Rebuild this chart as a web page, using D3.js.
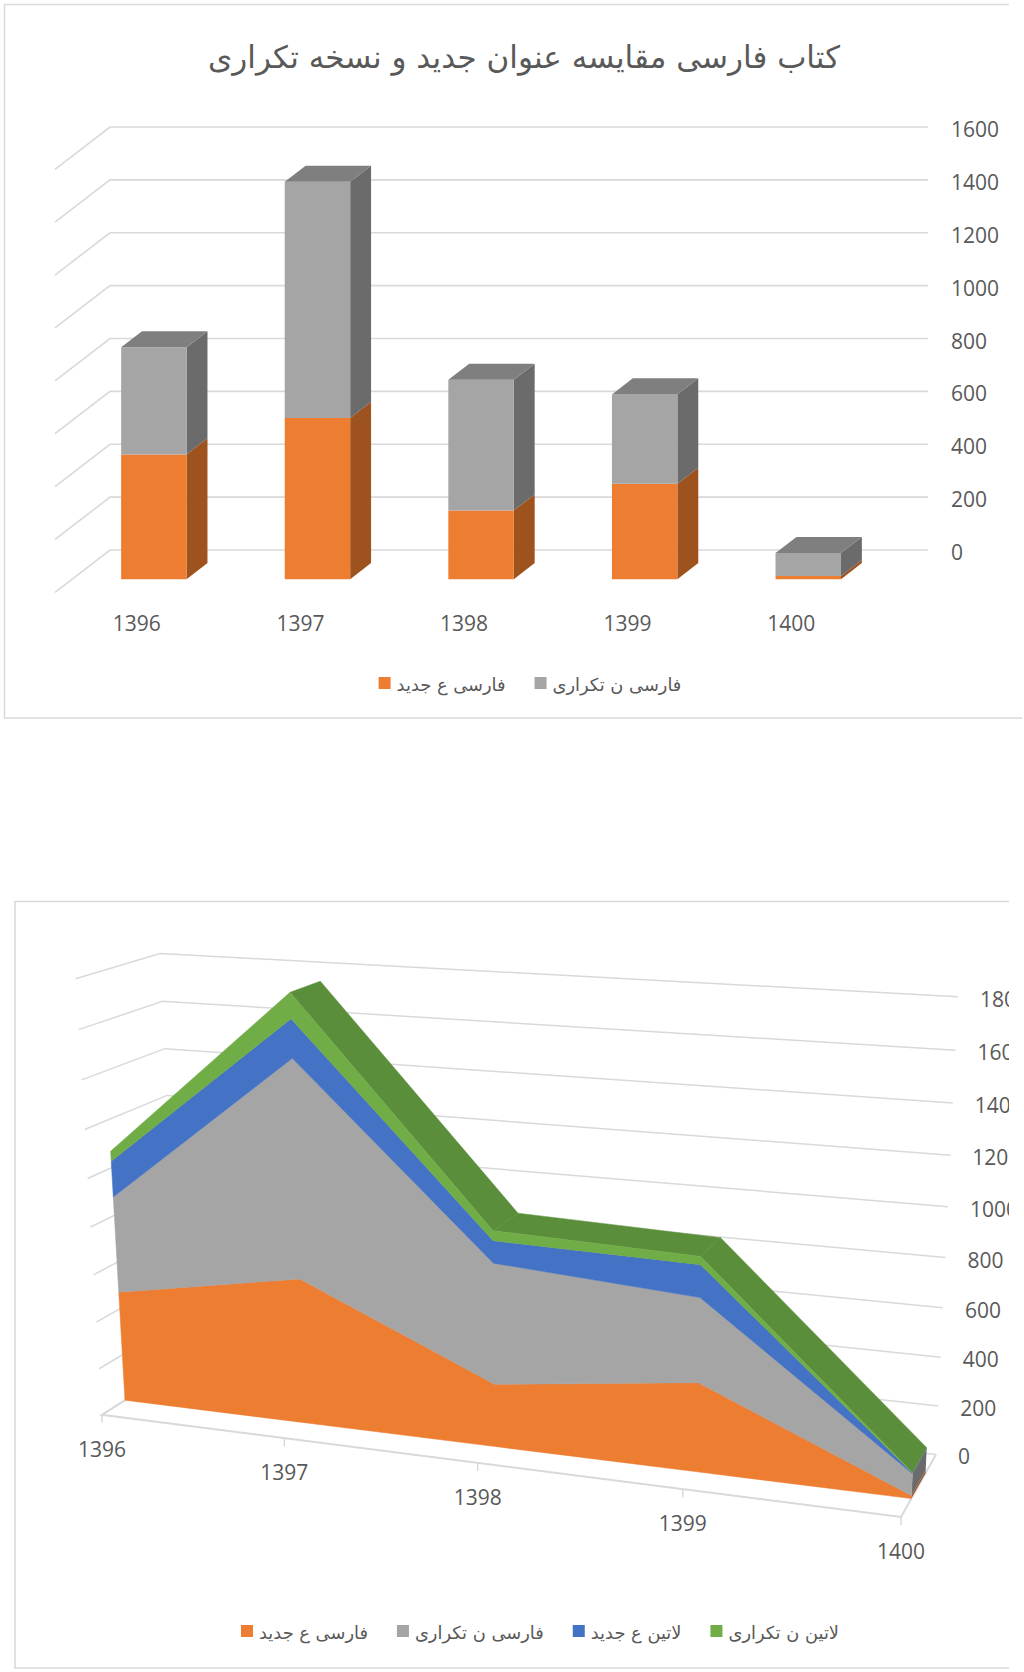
<!DOCTYPE html>
<html>
<head>
<meta charset="utf-8">
<script src="https://cdn.jsdelivr.net/npm/d3@7"></script>
<style>
  body { margin: 0; background: #fff; }
</style>
</head>
<body>
<svg id="chart" width="1024" height="1672"></svg>
<script>
// ---- data ----
const categories = ["1396", "1397", "1398", "1399", "1400"];
const seriesNames = ["فارسی ع جدید", "فارسی ن تکراری", "لاتین ع جدید", "لاتین ن تکراری"];
const persianNew = [472, 610, 260, 361, 12];
const persianRepeat = [405, 893, 494, 338, 87];
const latinNew = [150, 155, 90, 128, 3];
const latinRepeat = [42, 103, 40, 32, 2];
const topTicks = [0, 200, 400, 600, 800, 1000, 1200, 1400, 1600];
const bottomTicks = [0, 200, 400, 600, 800, 1000, 1200, 1400, 1600, 1800];
const topTitle = "کتاب فارسی مقایسه عنوان جدید و نسخه تکراری";

// ---- styles ----
const gridCol = "#d9d9d9";
const textCol = "#595959";
const numFont = "'Open Sans', sans-serif";
const faFont = "'DejaVu Sans', sans-serif";
const faceCol = ["#ed7d31", "#a5a5a5", "#4472c4", "#70ad47"];
const sideCol = ["#9e521e", "#6b6b6b", "#2f528f", "#4e7a31"];
const topFaceCol = "#7f7f7f";
const ribbonCol = "#5b8e3a";

const svg = d3.select("#chart");
const line = d3.line();
const poly = pts => line(pts) + "Z";

// shrink/grow a text so it takes the given width
function fitWidth(sel, w) {
  const cur = sel.node().getComputedTextLength();
  const fs = parseFloat(sel.attr("font-size"));
  sel.attr("font-size", fs * w / cur);
}

function legend(g, keys, cx, cy, textW) {
  const items = g.selectAll("g").data(keys).join("g");
  items.append("rect").attr("width", 12).attr("height", 12)
    .attr("y", cy - 6).attr("fill", d => faceCol[d]);
  const t = items.append("text")
    .attr("font-family", faFont).attr("font-size", 17).attr("fill", textCol)
    .attr("y", cy + 1).attr("dominant-baseline", "central")
    .text(d => seriesNames[d]);
  // common size, from the first label
  const first = t.filter((d, i) => i === 0);
  fitWidth(first, textW);
  t.attr("font-size", first.attr("font-size"));
  let x = 0;
  const pos = [];
  t.each(function () {
    pos.push(x);
    x += 12 + 6 + this.getComputedTextLength() + 29;
  });
  const total = x - 29;
  const x0 = cx - total / 2;
  items.select("rect").attr("x", (d, i) => x0 + pos[i]);
  t.attr("x", (d, i) => x0 + pos[i] + 18);
}

// =====================================================
// 1. 3D stacked columns (top)
// =====================================================
const gTop = svg.append("g");
gTop.append("path")
  .attr("d", "M1009,4.5 H4.5 V718 H1022")
  .attr("fill", "none").attr("stroke", gridCol).attr("stroke-width", 1.5);

const title = gTop.append("text")
  .attr("x", 524).attr("y", 68).attr("text-anchor", "middle")
  .attr("font-family", faFont).attr("font-size", 30).attr("fill", textCol)
  .text(topTitle);
fitWidth(title, 632);

const x1 = d3.scaleBand().domain(categories).range([110, 928])
  .paddingInner(0.6).paddingOuter(0.3);
const y1 = d3.scaleLinear().domain([0, 1600]).range([550, 127]);
// oblique depth: full wall depth moves (-55, +42.3)
const DX = -55, DY = 42.3, dFront = 0.69, dBack = 0.31;
const ob = (x, y, d) => [x + DX * d, y + DY * d];

// walls
gTop.append("g").selectAll("path").data(topTicks).join("path")
  .attr("d", v => line([[x1.range()[0] + DX, y1(v) + DY], [x1.range()[0], y1(v)], [x1.range()[1], y1(v)]]))
  .attr("fill", "none").attr("stroke", gridCol).attr("stroke-width", 1.6);

gTop.append("g").selectAll("text").data(topTicks).join("text")
  .attr("x", 951).attr("y", v => y1(v) + 2)
  .attr("dominant-baseline", "central")
  .attr("font-family", numFont).attr("font-size", 21).attr("fill", textCol)
  .text(v => v);

const rowsTop = categories.map((c, i) => ({ cat: c, s0: persianNew[i], s1: persianRepeat[i] }));
const stackTop = d3.stack().keys(["s0", "s1"])(rowsTop);

const faces = [];
categories.forEach((c, i) => {
  const xl = x1(c), xr = x1(c) + x1.bandwidth();
  stackTop.forEach((layer, k) => {
    const a = y1(layer[i][0]), b = y1(layer[i][1]);
    faces.push({ fill: sideCol[k], pts: [ob(xr, a, dFront), ob(xr, a, dBack), ob(xr, b, dBack), ob(xr, b, dFront)] });
    faces.push({ fill: faceCol[k], pts: [ob(xl, a, dFront), ob(xr, a, dFront), ob(xr, b, dFront), ob(xl, b, dFront)] });
    if (k === stackTop.length - 1) {
      faces.push({ fill: topFaceCol, pts: [ob(xl, b, dFront), ob(xr, b, dFront), ob(xr, b, dBack), ob(xl, b, dBack)] });
    }
  });
});
gTop.append("g").selectAll("path").data(faces).join("path")
  .attr("d", d => poly(d.pts)).attr("fill", d => d.fill);

gTop.append("g").selectAll("text").data(categories).join("text")
  .attr("x", c => x1(c) + x1.bandwidth() / 2 + DX)
  .attr("y", y1(0) + DY + 31)
  .attr("text-anchor", "middle").attr("dominant-baseline", "central")
  .attr("font-family", numFont).attr("font-size", 21).attr("fill", textCol)
  .text(c => c);

legend(gTop.append("g"), [0, 1], 530, 683, 109);

// =====================================================
// 2. 3D stacked area with perspective (bottom)
// =====================================================
svg.append("clipPath").attr("id", "clipB")
  .append("rect").attr("x", 0).attr("y", 890).attr("width", 1009).attr("height", 782);
const gBot = svg.append("g").attr("clip-path", "url(#clipB)");
gBot.append("path")
  .attr("d", "M1009,901.5 H15 V1668 H1009")
  .attr("fill", "none").attr("stroke", gridCol).attr("stroke-width", 1.5);

// world scales
const W = 322, D = 66, zFront = 47.5, zBack = 20.7;
const xw = d3.scalePoint().domain(categories).range([0, W]);
const yw = d3.scaleLinear().domain([0, 1800]).range([0, 175]);

// camera (rotation, translation, focal length, principal point)
const R = [[0.9396, -0.0045, -0.3422], [-0.0946, 0.9576, -0.2723], [-0.3289, -0.2882, -0.8993]];
const T = [-148.8, -33.1, 1000];
const F = 2355, CX = 531, CY = 1287;
function P(X, Y, Z) {
  const px = R[0][0] * X + R[0][1] * Y + R[0][2] * Z + T[0];
  const py = R[1][0] * X + R[1][1] * Y + R[1][2] * Z + T[1];
  const pz = R[2][0] * X + R[2][1] * Y + R[2][2] * Z + T[2];
  return [CX + F * px / pz, CY - F * py / pz];
}
const pv = (c, v, z) => P(xw(c), yw(v), z);

// back wall + left wall
gBot.append("g").selectAll("path").data(bottomTicks).join("path")
  .attr("d", v => line([P(0, yw(v), D), P(0, yw(v), 0), P(W, yw(v), 0)]))
  .attr("fill", "none").attr("stroke", gridCol).attr("stroke-width", 1.5);

// floor edges + ticks
gBot.append("path")
  .attr("d", line([P(0, 0, 0), P(0, 0, D), P(W, 0, D), P(W, 0, 0)]))
  .attr("fill", "none").attr("stroke", gridCol).attr("stroke-width", 2);
gBot.append("g").selectAll("path").data(categories).join("path")
  .attr("d", c => { const p = pv(c, 0, D); return line([p, [p[0], p[1] + 8]]); })
  .attr("stroke", gridCol).attr("stroke-width", 1.5);

gBot.append("g").selectAll("text").data(bottomTicks).join("text")
  .attr("x", v => P(W, yw(v), 0)[0] + 22)
  .attr("y", v => P(W, yw(v), 0)[1] + 2)
  .attr("dominant-baseline", "central")
  .attr("font-family", numFont).attr("font-size", 21).attr("fill", textCol)
  .text(v => v);

gBot.append("g").selectAll("text").data(categories).join("text")
  .attr("x", c => pv(c, 0, D)[0])
  .attr("y", c => pv(c, 0, D)[1] + 34)
  .attr("text-anchor", "middle").attr("dominant-baseline", "central")
  .attr("font-family", numFont).attr("font-size", 21).attr("fill", textCol)
  .text(c => c);

// stacked areas
const rowsBot = categories.map((c, i) => ({ cat: c, a: persianNew[i], b: persianRepeat[i], c: latinNew[i], d: latinRepeat[i] }));
const stackBot = d3.stack().keys(["a", "b", "c", "d"])(rowsBot);
const topLayer = stackBot[stackBot.length - 1];
const area3d = gBot.append("g");

// top surface ribbons (only those facing the camera)
const ribbons = [];
for (let i = 0; i < categories.length - 1; i++) {
  const c0 = categories[i], c1 = categories[i + 1];
  const pts = [pv(c0, topLayer[i][1], zFront), pv(c1, topLayer[i + 1][1], zFront),
               pv(c1, topLayer[i + 1][1], zBack), pv(c0, topLayer[i][1], zBack)];
  if (d3.polygonArea(pts) > 0) ribbons.push(pts);
}
area3d.append("g").selectAll("path").data(ribbons).join("path")
  .attr("d", poly).attr("fill", ribbonCol).attr("stroke", ribbonCol).attr("stroke-width", 0.5);

// right end cap
const last = categories.length - 1, cl = categories[last];
area3d.append("g").selectAll("path").data(stackBot).join("path")
  .attr("d", (s, k) => poly([pv(cl, s[last][0], zFront), pv(cl, s[last][1], zFront),
                             pv(cl, s[last][1], zBack), pv(cl, s[last][0], zBack)]))
  .attr("fill", (s, k) => sideCol[k]);

// front faces
area3d.append("g").selectAll("path").data(stackBot).join("path")
  .attr("d", s => {
    const upper = s.map((d, i) => pv(categories[i], d[1], zFront));
    const lower = s.map((d, i) => pv(categories[i], d[0], zFront)).reverse();
    return poly(upper.concat(lower));
  })
  .attr("fill", (s, k) => faceCol[k]).attr("stroke", (s, k) => faceCol[k]).attr("stroke-width", 0.5);

legend(gBot.append("g"), [0, 1, 2, 3], 540, 1631, 109);
</script>
</body>
</html>
